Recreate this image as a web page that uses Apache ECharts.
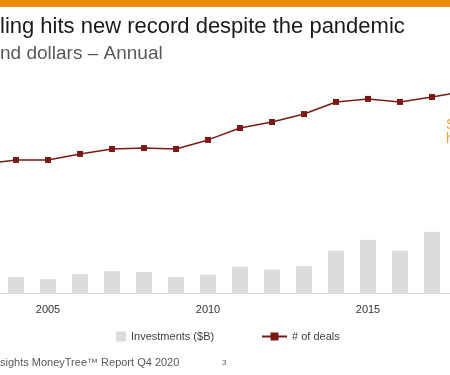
<!DOCTYPE html>
<html>
<head>
<meta charset="utf-8">
<script src="https://cdn.jsdelivr.net/npm/echarts@6/dist/echarts.min.js"></script>
<style>html,body{margin:0;padding:0;background:#fff;overflow:hidden;width:450px;height:375px;}#c{position:absolute;left:-32px;top:0;width:544px;height:375px;}</style>
</head>
<body>
<div id="c"></div>
<script>
var years = ['2003','2004','2005','2006','2007','2008','2009','2010','2011','2012','2013','2014','2015','2016','2017','2018'];
var investments = [19, 22, 19, 26, 30, 29, 22, 25, 36, 32, 37, 58, 73, 58, 84, 100];
var deals = [5540, 5710, 5710, 5970, 6180, 6220, 6180, 6570, 7080, 7340, 7680, 8200, 8330, 8200, 8410, 8650];
var shownTicks = ['2005', '2010', '2015'];

var OX = 32; // container offset
var chart = echarts.init(document.getElementById('c'), null, {renderer: 'canvas'});
var FONT = '"Liberation Sans", Arial, sans-serif';
chart.setOption({
  animation: false,
  backgroundColor: '#ffffff',
  textStyle: {fontFamily: FONT},
  grid: {left: 0, width: 512, top: 60, bottom: 82, containLabel: false},
  xAxis: {
    type: 'category',
    data: years,
    axisLine: {lineStyle: {color: '#d9d9d9', width: 1}},
    axisTick: {show: false},
    axisLabel: {
      interval: 0,
      margin: 11,
      color: '#333333',
      fontSize: 11,
      fontFamily: FONT,
      formatter: function (v) { return shownTicks.indexOf(v) >= 0 ? v : ''; }
    }
  },
  yAxis: [
    {type: 'value', min: 0, max: 320, show: false, splitLine: {show: false}},
    {type: 'value', min: 0, max: 10000, show: false, splitLine: {show: false}}
  ],
  legend: [
    {
      left: 111 + OX, top: 326, itemWidth: 10, itemHeight: 10,
      data: [{name: 'Investments ($B)', icon: 'rect'}],
      textStyle: {color: '#404040', fontSize: 11, fontFamily: FONT},
      selectedMode: false
    },
    {
      left: 256 + OX, top: 326, itemWidth: 25, itemHeight: 10,
      data: ['# of deals'],
      textStyle: {color: '#404040', fontSize: 11, fontFamily: FONT},
      selectedMode: false
    }
  ],
  series: [
    {
      name: 'Investments ($B)',
      type: 'bar',
      yAxisIndex: 0,
      data: investments,
      barWidth: 16,
      itemStyle: {color: '#dcdcdc'}
    },
    {
      name: '# of deals',
      type: 'line',
      yAxisIndex: 1,
      data: deals,
      symbol: 'rect',
      symbolSize: 6,
      lineStyle: {color: '#7a1a14', width: 1.5},
      itemStyle: {color: '#7a1a14'}
    }
  ],
  graphic: [
    {type: 'rect', shape: {x: OX, y: 0, width: 450, height: 7}, style: {fill: '#eb8c00'}},
    {type: 'text', x: OX, y: 16, style: {text: 'ling hits new record despite the pandemic', font: '22px ' + FONT, fill: '#1a1a1a'}},
    {type: 'text', x: OX, y: 44, style: {text: 'nd dollars \u2013 Annual', font: '19px ' + FONT, fill: '#595959'}},
    {type: 'text', x: OX + 446, y: 118, style: {text: 'S', font: '14px ' + FONT, fill: '#eda23a'}},
    {type: 'text', x: OX + 446, y: 132, style: {text: 'h', font: '14px ' + FONT, fill: '#eda23a'}},
    {type: 'text', x: OX, y: 357, style: {text: 'sights MoneyTree\u2122 Report Q4 2020', font: '11px ' + FONT, fill: '#595959'}},
    {type: 'text', x: OX + 222, y: 359, style: {text: '3', font: '8px ' + FONT, fill: '#595959'}}
  ]
});
</script>
</body>
</html>
